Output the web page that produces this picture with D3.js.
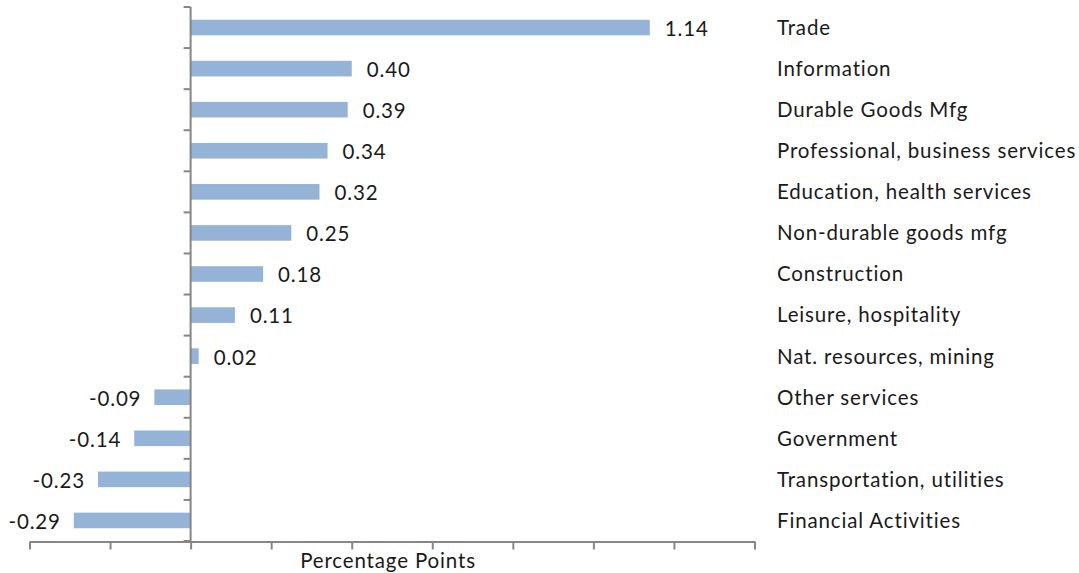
<!DOCTYPE html>
<html>
<head>
<meta charset="utf-8">
<script src="https://cdn.jsdelivr.net/npm/d3@7"></script>
<style>
  html, body { margin: 0; padding: 0; background: #ffffff; }
  svg text { font-family: Lato, "Open Sans", sans-serif; fill: #1a1a1a; letter-spacing: 0.85px; }
</style>
</head>
<body>
<svg id="chart" width="1079" height="573"></svg>
<script>
// Sector contributions, in percentage points
const sectors = [
  "Trade", "Information", "Durable Goods Mfg", "Professional, business services",
  "Education, health services", "Non-durable goods mfg", "Construction",
  "Leisure, hospitality", "Nat. resources, mining", "Other services",
  "Government", "Transportation, utilities", "Financial Activities"
];
const contributions = [1.14, 0.40, 0.39, 0.34, 0.32, 0.25, 0.18, 0.11, 0.02, -0.09, -0.14, -0.23, -0.29];
const xTicks = [-0.4, -0.2, 0, 0.2, 0.4, 0.6, 0.8, 1.0, 1.2, 1.4];
const xTitle = "Percentage Points";

const svg = d3.select("#chart");
const axisColor = "#868686";
const barColor = "#95b3d7";
const fontSize = 20.5;

// Plain hyphen for negatives
const fmt = d3.formatLocale({ decimal: ".", thousands: ",", grouping: [3], currency: ["", ""], minus: "-" }).format(".2f");

const x = d3.scaleLinear().domain([-0.4, 1.4]).range([29.5, 754.5]);
const y = d3.scaleBand().domain(sectors).range([7, 541]).paddingInner(0.62).paddingOuter(0.31);

const rows = sectors.map((s, i) => ({ s, v: contributions[i] }));

// Bars
svg.append("g").selectAll("rect")
  .data(rows)
  .join("rect")
  .attr("x", d => x(Math.min(0, d.v)))
  .attr("y", d => y(d.s))
  .attr("width", d => Math.abs(x(d.v) - x(0)))
  .attr("height", y.bandwidth())
  .attr("fill", barColor);

// Value labels beside each bar
svg.append("g").selectAll("text")
  .data(rows)
  .join("text")
  .attr("x", d => d.v >= 0 ? x(d.v) + 15 : x(d.v) - 13)
  .attr("y", d => y(d.s) + y.bandwidth() / 2 + 1)
  .attr("dy", "0.36em")
  .attr("text-anchor", d => d.v >= 0 ? "start" : "end")
  .attr("font-size", fontSize)
  .text(d => fmt(d.v));

// Category labels in a column on the right
svg.append("g").selectAll("text")
  .data(sectors)
  .join("text")
  .attr("x", 777)
  .attr("y", d => y(d) + y.bandwidth() / 2)
  .attr("dy", "0.36em")
  .attr("font-size", fontSize)
  .text(d => d);

// Bottom value axis
const xAxis = svg.append("g")
  .attr("transform", "translate(0,541.5)")
  .call(d3.axisBottom(x).tickValues(xTicks).tickSize(8).tickSizeOuter(0).tickFormat(""));
xAxis.selectAll("path, line").attr("stroke", axisColor).attr("stroke-width", 2);

// Vertical category axis at zero with boundary ticks
const bounds = d3.range(sectors.length + 1).map(i => 7 + i * (534 / sectors.length));
const yAxis = svg.append("g");
yAxis.append("line")
  .attr("x1", x(0)).attr("x2", x(0))
  .attr("y1", 7).attr("y2", 541)
  .attr("stroke", axisColor).attr("stroke-width", 2);
yAxis.selectAll("line.tick")
  .data(bounds)
  .join("line")
  .attr("class", "tick")
  .attr("x1", x(0) - 7).attr("x2", x(0))
  .attr("y1", d => d).attr("y2", d => d)
  .attr("stroke", axisColor).attr("stroke-width", 2);

// Axis title
svg.append("text")
  .attr("x", 388)
  .attr("y", 568)
  .attr("text-anchor", "middle")
  .attr("font-size", fontSize)
  .attr("letter-spacing", 0.6)
  .text(xTitle);
</script>
</body>
</html>
